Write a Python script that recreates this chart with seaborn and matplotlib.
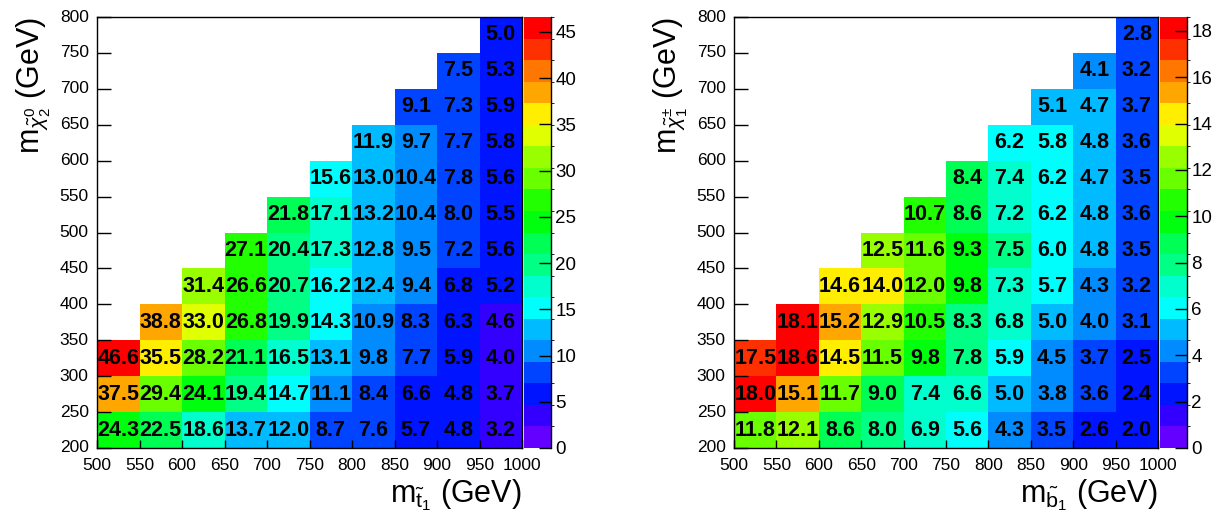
import numpy as np
import colorsys
import matplotlib
matplotlib.use("Agg")
import matplotlib.pyplot as plt
from matplotlib.colors import ListedColormap, BoundaryNorm
import seaborn as sns

plt.rcParams['font.family'] = ['Liberation Sans', 'DejaVu Sans']
plt.rcParams['mathtext.fontset'] = 'custom'
plt.rcParams['mathtext.rm'] = 'Liberation Sans'
plt.rcParams['mathtext.it'] = 'Liberation Sans:italic'
plt.rcParams['mathtext.bf'] = 'Liberation Sans:bold'

# bin edges (GeV)
x_edges = [500, 550, 600, 650, 700, 750, 800, 850, 900, 950, 1000]
y_edges = [200, 250, 300, 350, 400, 450, 500, 550, 600, 650, 700, 750, 800]

# Left panel: rows from bottom (y=200-250) upward; each row ends at the last x bin
stop_rows = [
    [24.3, 22.5, 18.6, 13.7, 12.0, 8.7, 7.6, 5.7, 4.8, 3.2],
    [37.5, 29.4, 24.1, 19.4, 14.7, 11.1, 8.4, 6.6, 4.8, 3.7],
    [46.6, 35.5, 28.2, 21.1, 16.5, 13.1, 9.8, 7.7, 5.9, 4.0],
    [38.8, 33.0, 26.8, 19.9, 14.3, 10.9, 8.3, 6.3, 4.6],
    [31.4, 26.6, 20.7, 16.2, 12.4, 9.4, 6.8, 5.2],
    [27.1, 20.4, 17.3, 12.8, 9.5, 7.2, 5.6],
    [21.8, 17.1, 13.2, 10.4, 8.0, 5.5],
    [15.6, 13.0, 10.4, 7.8, 5.6],
    [11.9, 9.7, 7.7, 5.8],
    [9.1, 7.3, 5.9],
    [7.5, 5.3],
    [5.0],
]

# Right panel
sbottom_rows = [
    [11.8, 12.1, 8.6, 8.0, 6.9, 5.6, 4.3, 3.5, 2.6, 2.0],
    [18.0, 15.1, 11.7, 9.0, 7.4, 6.6, 5.0, 3.8, 3.6, 2.4],
    [17.5, 18.6, 14.5, 11.5, 9.8, 7.8, 5.9, 4.5, 3.7, 2.5],
    [18.1, 15.2, 12.9, 10.5, 8.3, 6.8, 5.0, 4.0, 3.1],
    [14.6, 14.0, 12.0, 9.8, 7.3, 5.7, 4.3, 3.2],
    [12.5, 11.6, 9.3, 7.5, 6.0, 4.8, 3.5],
    [10.7, 8.6, 7.2, 6.2, 4.8, 3.6],
    [8.4, 7.4, 6.2, 4.7, 3.5],
    [6.2, 5.8, 4.8, 3.6],
    [5.1, 4.7, 3.7],
    [4.1, 3.2],
    [2.8],
]

left_cbar_ticks = [0, 5, 10, 15, 20, 25, 30, 35, 40, 45]
right_cbar_ticks = [0, 2, 4, 6, 8, 10, 12, 14, 16, 18]

left_xlabel = r"m$_{\tilde{\mathrm{t}}_{1}}$ (GeV)"
left_ylabel = r"m$_{\tilde{\mathit{\chi}}^{0}_{2}}$ (GeV)"
right_xlabel = r"m$_{\tilde{\mathrm{b}}_{1}}$ (GeV)"
right_ylabel = r"m$_{\tilde{\mathit{\chi}}^{\pm}_{1}}$ (GeV)"

# ROOT "pretty" palette, 20 contour levels
NCONT = 20
colors = []
for k in range(NCONT):
    idx = int((k + 0.99) * 50 / NCONT)
    hue = 280 - (idx + 1) * 5.6
    colors.append(colorsys.hls_to_rgb(max(hue, 0) / 360.0, 0.5, 1.0))
cmap = ListedColormap(colors)


def build(rows):
    nr, nc = len(y_edges) - 1, len(x_edges) - 1
    Z = np.full((nr, nc), np.nan)
    for i, r in enumerate(rows):
        Z[i, nc - len(r):] = r
    return Z


W, H = 1219, 525
fig = plt.figure(figsize=(W / 100, H / 100), dpi=100)


def panel(rows, axrect, caxrect, cticks, xlabel, ylabel):
    Z = build(rows)
    zmax = np.nanmax(Z)
    norm = BoundaryNorm(np.linspace(0, zmax, NCONT + 1), NCONT)
    ax = fig.add_axes(axrect)
    cax = fig.add_axes(caxrect)
    sns.heatmap(Z, ax=ax, cbar_ax=cax, cmap=cmap, norm=norm, mask=np.isnan(Z),
                annot=True, fmt=".1f",
                annot_kws=dict(size=15.5, weight='bold', color='black'),
                linewidths=0)
    ax.set_ylim(0, Z.shape[0])
    ax.set_xlim(0, Z.shape[1])
    ax.set_xticks(np.arange(len(x_edges)))
    ax.set_xticklabels([str(v) for v in x_edges], rotation=0, fontsize=12.5)
    ax.set_yticks(np.arange(len(y_edges)))
    ax.set_yticklabels([str(v) for v in y_edges], rotation=0, fontsize=12.5)
    ax.tick_params(axis='y', direction='in', length=10, width=1, pad=6, left=True)
    ax.tick_params(axis='x', direction='in', length=6, width=1, pad=7, bottom=True)
    for s in ax.spines.values():
        s.set_visible(True)
        s.set_linewidth(1)
        s.set_color('black')
    ax.set_xlabel(xlabel, fontsize=22, loc='right', labelpad=3)
    ax.set_ylabel(ylabel, fontsize=22, loc='top', labelpad=5)
    cax.set_ylim(0, zmax)
    cax.set_yticks(cticks)
    cax.set_yticklabels([str(t) for t in cticks], fontsize=13.5)
    cax.tick_params(axis='y', direction='in', length=9, width=1, pad=3, right=True)
    cax.spines['right'].set_visible(True)
    cax.spines['right'].set_linewidth(1)
    return ax


panel(stop_rows,
      [97 / W, 77 / H, 425 / W, 431 / H],
      [524 / W, 77 / H, 27 / W, 431 / H],
      left_cbar_ticks, left_xlabel, left_ylabel)
panel(sbottom_rows,
      [734 / W, 77 / H, 424 / W, 431 / H],
      [1160 / W, 77 / H, 27 / W, 431 / H],
      right_cbar_ticks, right_xlabel, right_ylabel)

fig.savefig("out.png", dpi=100)
